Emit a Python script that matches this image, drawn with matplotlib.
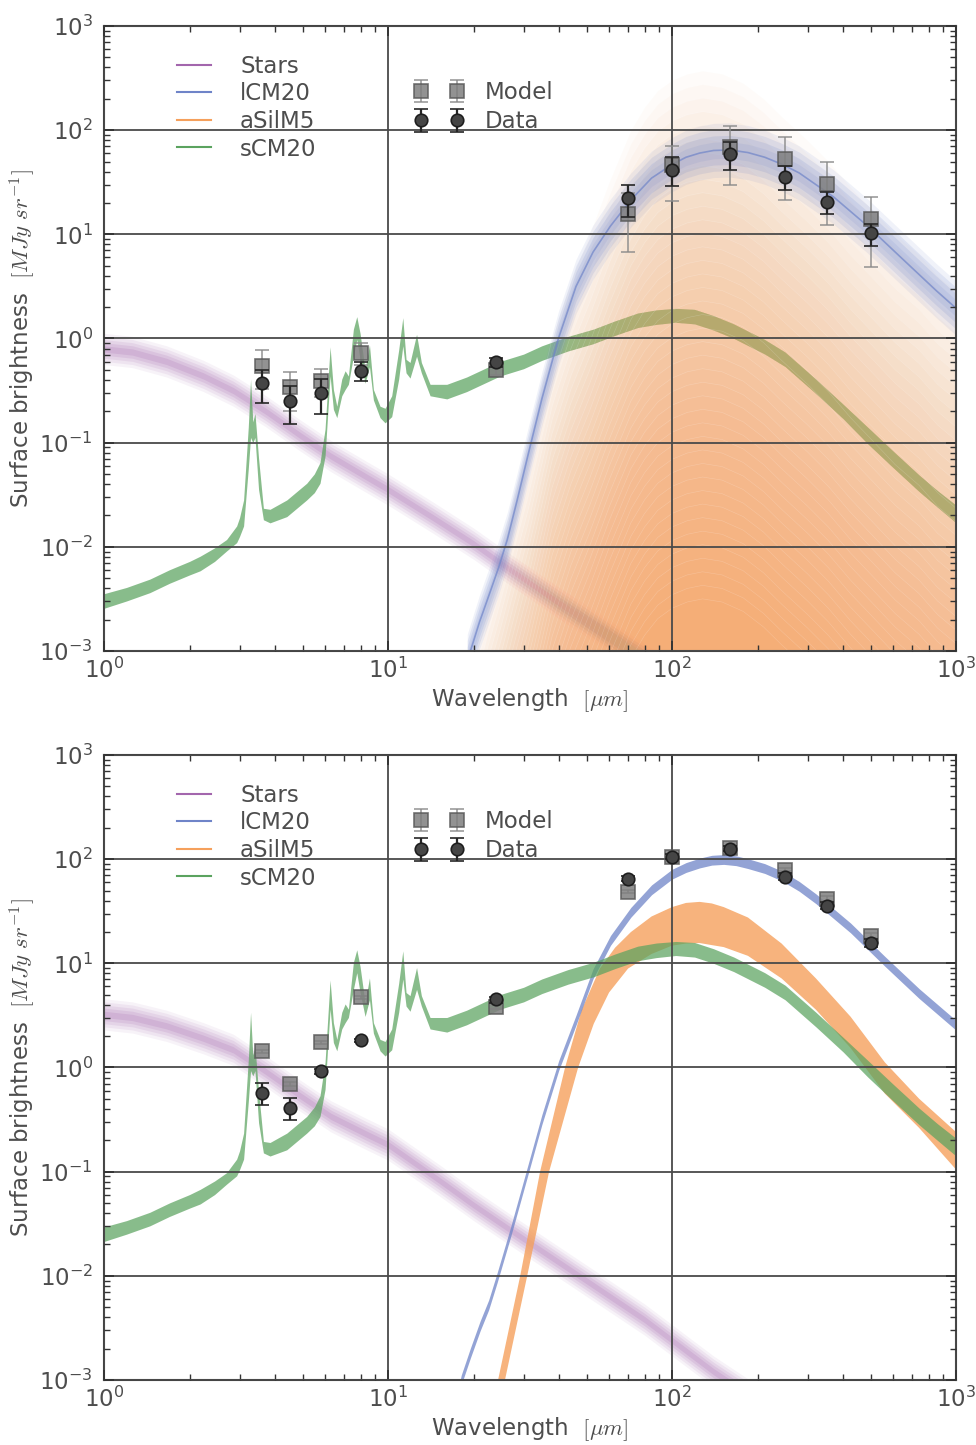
import numpy as np
import matplotlib
matplotlib.use("Agg")
import matplotlib.pyplot as plt
from matplotlib.lines import Line2D
from matplotlib.ticker import LogLocator, NullFormatter

# photometric bands [um]
bands = [3.6, 4.5, 5.8, 8.0, 24, 70, 100, 160, 250, 350, 500]

# top panel, surface brightness [MJy/sr]
top_data = [0.37, 0.25, 0.30, 0.49, 0.59, 22.1, 41.9, 59.6, 35.9, 20.6, 10.2]
top_data_err = [0.13, 0.10, 0.11, 0.10, 0.06, 7.5, 13.0, 18.0, 9.0, 5.0, 2.5]
top_model = [0.55, 0.34, 0.395, 0.73, 0.50, 15.8, 45.8, 69.6, 53.4, 30.7, 13.9]
top_model_err = [0.22, 0.14, 0.12, 0.17, 0.05, 9.0, 25.0, 40.0, 32.0, 18.5, 9.0]

# bottom panel
bot_data = [0.575, 0.41, 0.92, 1.82, 4.5, 65.1, 106, 126, 68, 35.9, 15.8]
bot_data_err = [0.14, 0.10, 0.05, 0.05, 0.3, 3.5, 6.0, 7.0, 5.0, 3.0, 1.5]
bot_model = [1.43, 0.70, 1.74, 4.7, 3.85, 48.9, 105, 128, 79.5, 41.9, 18.5]
bot_model_err = [0.05, 0.03, 0.07, 0.2, 0.2, 2.0, 4.0, 5.0, 3.0, 2.0, 1.0]

# model components, fluxes as log10(MJy/sr)
stars_top_wl = [1.0, 1.26, 1.66, 2.24, 2.85, 3.72, 4.9, 6.3, 8.4, 10, 14.4, 20, 26.3, 40, 56, 72, 100]
stars_top = [-0.10, -0.13, -0.22, -0.36, -0.50, -0.70, -0.93, -1.13, -1.33, -1.45, -1.72,
             -1.97, -2.20, -2.54, -2.80, -3.0, -3.25]
stars_bot_wl = [1.0, 1.26, 1.66, 2.24, 2.85, 3.72, 4.9, 6.3, 8.4, 10, 15.1, 20, 26.3, 45.9, 80, 140, 200]
stars_bot = [0.51, 0.48, 0.40, 0.28, 0.17, -0.04, -0.27, -0.47, -0.64, -0.74, -1.08,
             -1.32, -1.54, -1.98, -2.42, -2.92, -3.2]

green_wl = [1.0, 1.2, 1.45, 1.7, 2.0, 2.18, 2.45, 2.7, 2.93, 3.0, 3.1, 3.22, 3.28, 3.34, 3.40,
            3.50, 3.64, 3.84, 4.4, 5.17, 5.5, 5.76, 6.0, 6.25, 6.42, 6.6, 6.87, 7.06, 7.25,
            7.55, 7.76, 7.97, 8.3, 8.6, 8.88, 9.37, 9.76, 10.3, 10.9, 11.27, 11.57, 11.95,
            12.6, 13.1, 14.06, 16.1, 18.9, 24.8, 30, 34.8, 43, 52.8, 63, 75.7, 88, 103, 120,
            140, 165, 212, 250, 321, 400, 488, 600, 741, 860, 1000]
green_top_hi = [-2.45, -2.39, -2.31, -2.22, -2.14, -2.09, -2.01, -1.93, -1.80, -1.72, -1.55,
                -0.85, -0.39, -0.80, -0.72, -1.15, -1.63, -1.64, -1.55, -1.39, -1.30, -1.19,
                -0.87, -0.08, -0.49, -0.65, -0.39, -0.31, -0.36, 0.09, 0.21, 0.05, -0.30,
                -0.06, -0.49, -0.65, -0.67, -0.55, -0.11, 0.20, -0.20, -0.23, 0.04, -0.23,
                -0.44, -0.44, -0.37, -0.22, -0.15, -0.07, 0.02, 0.09, 0.17, 0.245, 0.275,
                0.29, 0.28, 0.22, 0.14, -0.01, -0.13, -0.39, -0.63, -0.85, -1.08, -1.31,
                -1.46, -1.60]
green_top_lo = [-2.59, -2.52, -2.44, -2.35, -2.27, -2.23, -2.14, -2.04, -1.96, -1.90, -1.80,
                -1.25, -0.95, -1.00, -0.95, -1.45, -1.74, -1.77, -1.71, -1.55, -1.48, -1.39,
                -1.13, -0.36, -0.68, -0.76, -0.55, -0.49, -0.44, -0.17, -0.01, -0.20, -0.43,
                -0.27, -0.59, -0.76, -0.81, -0.75, -0.39, -0.07, -0.33, -0.38, -0.17, -0.33,
                -0.55, -0.58, -0.51, -0.36, -0.29, -0.21, -0.12, -0.05, 0.03, 0.105, 0.135,
                0.155, 0.14, 0.08, 0.00, -0.15, -0.27, -0.53, -0.77, -1.01, -1.24, -1.47,
                -1.62, -1.77]
green_bot_hi = [-1.53, -1.47, -1.39, -1.30, -1.22, -1.17, -1.09, -1.01, -0.88, -0.80, -0.63,
                0.07, 0.53, 0.12, 0.20, -0.23, -0.71, -0.72, -0.63, -0.47, -0.38, -0.27,
                0.05, 0.84, 0.43, 0.27, 0.53, 0.61, 0.56, 1.01, 1.13, 0.97, 0.62,
                0.86, 0.43, 0.27, 0.25, 0.37, 0.81, 1.12, 0.72, 0.69, 0.96, 0.69,
                0.48, 0.48, 0.55, 0.70, 0.77, 0.85, 0.94, 1.01, 1.09, 1.165, 1.195,
                1.21, 1.20, 1.14, 1.06, 0.91, 0.79, 0.53, 0.29, 0.07, -0.16, -0.39,
                -0.54, -0.68]
green_bot_lo = [-1.67, -1.60, -1.52, -1.43, -1.35, -1.31, -1.22, -1.12, -1.04, -0.98, -0.88,
                -0.33, -0.03, -0.08, -0.03, -0.53, -0.82, -0.85, -0.79, -0.63, -0.56, -0.47,
                -0.21, 0.56, 0.24, 0.16, 0.37, 0.43, 0.48, 0.75, 0.91, 0.72, 0.49,
                0.65, 0.33, 0.16, 0.11, 0.17, 0.53, 0.85, 0.59, 0.54, 0.75, 0.59,
                0.37, 0.34, 0.41, 0.56, 0.63, 0.71, 0.80, 0.87, 0.95, 1.025, 1.055,
                1.075, 1.06, 1.00, 0.92, 0.77, 0.65, 0.39, 0.15, -0.09, -0.32, -0.55,
                -0.70, -0.85]

blue_top_wl = [19.0, 19.5, 21, 22.9, 24.5, 26.3, 28.5, 31.1, 34.8, 39.8, 45.9, 52.7, 60.7,
               71.6, 84.7, 100, 112, 125, 140, 160, 185, 212, 245, 280, 370, 488, 644, 851, 1000]
blue_top = [-3.1, -3.0, -2.72, -2.43, -2.2, -1.93, -1.55, -1.12, -0.58, 0.0, 0.5, 0.83, 1.08,
            1.33, 1.54, 1.67, 1.74, 1.78, 1.805, 1.81, 1.785, 1.74, 1.67, 1.59, 1.36, 1.08,
            0.77, 0.46, 0.29]
blue_bot_wl = [16.5, 18.1, 19.5, 21.1, 22.6, 24.2, 27.0, 31.1, 34.8, 39.9, 45.9, 52.7, 60.7,
               71.6, 84.7, 100, 112, 125, 138, 152, 168, 185, 212, 243, 280, 321, 425, 561,
               741, 1000]
blue_bot = [-3.5, -3.0, -2.74, -2.48, -2.28, -2.02, -1.58, -0.98, -0.50, 0.02, 0.455, 0.90,
            1.22, 1.49, 1.706, 1.856, 1.92, 1.963, 1.99, 1.997, 1.985, 1.957, 1.91, 1.84,
            1.74, 1.62, 1.34, 1.02, 0.71, 0.405]

# aSilM5, top: upper envelope of the family of fits and how far each member sits below it
asil_top_wl = [18, 20, 22.4, 24.9, 27.8, 31.1, 34.3, 37.8, 44, 51.3, 60, 71.6, 80, 89, 100,
               113, 128, 150, 178, 210, 243, 300, 355, 425, 520, 610, 741, 860, 1000]
asil_top_env = [-3.6, -3.0, -2.45, -2.0, -1.5, -1.0, -0.5, 0.0, 0.55, 1.0, 1.5, 2.0, 2.22,
                2.38, 2.48, 2.54, 2.57, 2.54, 2.45, 2.3, 2.13, 1.9, 1.7, 1.45, 1.2, 1.0,
                0.8, 0.6, 0.45]
asil_fan_shift = [0.0, -0.13, -0.26, -0.39, -0.52, -0.65, -0.78, -0.91, -1.04, -1.17,
                  -1.30, -1.43, -1.56, -1.69, -1.82, -1.95, -2.08, -2.21, -2.34, -2.47,
                  -2.60, -2.73, -2.86, -2.99, -3.12, -3.25, -3.38, -3.51, -3.64, -3.77,
                  -3.90, -4.03, -4.16, -4.29, -4.42, -4.55, -4.68, -4.81, -4.94, -5.07]

# aSilM5, bottom: upper and lower edges of the band
asil_bot_hi_wl = [23.6, 24.4, 29.2, 34.3, 42, 48, 55.7, 63, 71.6, 84.7, 100, 112, 125,
                  138, 152, 185, 243, 321, 425, 561, 741, 1000]
asil_bot_hi = [-3.3, -3.0, -2.0, -1.0, 0.0, 0.55, 0.95, 1.15, 1.30, 1.45, 1.54, 1.58, 1.59,
               1.575, 1.54, 1.44, 1.19, 0.855, 0.488, 0.05, -0.30, -0.62]
asil_bot_lo_wl = [25.2, 25.8, 30.9, 36.9, 46.7, 53, 60, 70, 84.7, 100, 112, 125,
                  138, 152, 185, 243, 321, 425, 561, 741, 1000]
asil_bot_lo = [-3.3, -3.0, -2.0, -1.0, 0.0, 0.42, 0.72, 0.95, 1.09, 1.17, 1.19,
               1.195, 1.175, 1.156, 1.072, 0.855, 0.555, 0.188, -0.25, -0.58, -0.98]

c_stars = '#a366ad'
c_blue = '#6f84c8'
c_orange = '#f5a05c'
c_green = '#5ba35f'
txt = '#4d4d4d'

plt.rcParams['font.family'] = ['DejaVu Sans']
plt.rcParams['axes.unicode_minus'] = False


def fuzzy_band(ax, wl, logf, color, layers, z):
    logf = np.array(logf)
    for w, a in layers:
        ax.fill_between(wl, 10**(logf - w), 10**(logf + w), color=color, alpha=a, lw=0, zorder=z)


def green_band(ax, hi, lo, z):
    ax.fill_between(green_wl, 10**np.array(lo), 10**np.array(hi), color=c_green, alpha=0.72,
                    lw=0, zorder=z)


def points(ax, data, data_err, model, model_err):
    mod = ax.errorbar(bands, model, yerr=model_err, fmt='s', ms=10, mfc='#7f7f7f', mec='#5a5a5a',
                      mew=1.2, ecolor='#8a8a8a', elinewidth=1.2, capsize=5, capthick=1.2,
                      alpha=0.85, zorder=5)
    dat = ax.errorbar(bands, data, yerr=data_err, fmt='o', ms=9, mfc='#454545', mec='#1e1e1e',
                      mew=1.2, ecolor='#262626', elinewidth=1.6, capsize=5, capthick=1.6, zorder=6)
    return mod, dat


def decorate(ax, mod, dat):
    ax.set_xscale('log')
    ax.set_yscale('log')
    ax.set_xlim(1, 1000)
    ax.set_ylim(1e-3, 1e3)
    ax.set_axisbelow(False)
    ax.grid(True, which='major', color='#4a4a4a', lw=1.3)
    ax.grid(False, which='minor')
    for s in ax.spines.values():
        s.set_color('#444444')
        s.set_linewidth(1.5)
    for a in (ax.xaxis, ax.yaxis):
        a.set_minor_locator(LogLocator(base=10, subs=np.arange(2, 10)))
        a.set_minor_formatter(NullFormatter())
    ax.tick_params(which='both', direction='in', top=True, right=True, color='#333333',
                   labelcolor=txt, labelsize=16.5)
    ax.tick_params(which='major', length=7, width=1.3)
    ax.tick_params(which='minor', length=4, width=1.0)
    ax.tick_params(axis='x', pad=5)
    ax.tick_params(axis='y', pad=8)
    ax.set_xlabel(r'Wavelength  $[\mu m]$', fontsize=16.5, color=txt, math_fontfamily='cm',
                  labelpad=2)
    ax.set_ylabel(r'Surface brightness  $[MJy\ sr^{-1}]$', fontsize=16.5, color=txt,
                  math_fontfamily='cm', labelpad=1)

    comp = [Line2D([], [], color=c, lw=1.5) for c in (c_stars, c_blue, c_orange, c_green)]
    leg1 = ax.legend(comp, ['Stars', 'lCM20', 'aSilM5', 'sCM20'], loc='upper left',
                     bbox_to_anchor=(0.0857, 0.954), frameon=False, fontsize=16.5,
                     labelspacing=0.2, handlelength=1.5, handletextpad=1.25, borderpad=0,
                     borderaxespad=0, labelcolor=txt)
    ax.add_artist(leg1)
    ax.legend([mod, dat], ['Model', 'Data'], loc='upper left', bbox_to_anchor=(0.364, 0.912),
              frameon=False, fontsize=16.5, numpoints=2, labelspacing=0.27, handlelength=2.17,
              handletextpad=0.9, borderpad=0, borderaxespad=0, labelcolor=txt)


fig = plt.figure(figsize=(9.76, 14.45), dpi=100)
ax_top = fig.add_axes([0.1066, 0.5495, 0.8730, 0.4325])
ax_bot = fig.add_axes([0.1066, 0.0450, 0.8730, 0.4325])

star_layers = [(0.15, 0.08), (0.12, 0.10), (0.09, 0.12), (0.06, 0.15), (0.03, 0.18)]

# top panel
fuzzy_band(ax_top, stars_top_wl, stars_top, c_stars, star_layers, 1.0)
green_band(ax_top, green_top_hi, green_top_lo, 1.05)
env = np.array(asil_top_env)
for s in asil_fan_shift:
    ax_top.fill_between(asil_top_wl, 1e-8, 10**(env + s), color=c_orange, alpha=0.034, lw=0,
                        zorder=1.1)
    ax_top.plot(asil_top_wl, 10**(env + s), color='white', lw=0.4, alpha=0.2, zorder=1.1)
fuzzy_band(ax_top, blue_top_wl, blue_top, c_blue,
           [(0.26, 0.10), (0.20, 0.14), (0.14, 0.16), (0.08, 0.12)], 1.3)
ax_top.plot(blue_top_wl, 10**np.array(blue_top), color=c_blue, lw=1.2, alpha=0.7, zorder=1.4)
m, d = points(ax_top, top_data, top_data_err, top_model, top_model_err)
decorate(ax_top, m, d)

# bottom panel
fuzzy_band(ax_bot, stars_bot_wl, stars_bot, c_stars, star_layers, 1.0)
ax_bot.fill(np.concatenate([asil_bot_hi_wl, asil_bot_lo_wl[::-1]]),
            10**np.concatenate([asil_bot_hi, asil_bot_lo[::-1]]),
            color=c_orange, alpha=0.8, lw=0, zorder=1.1)
fuzzy_band(ax_bot, blue_bot_wl, blue_bot, c_blue, [(0.047, 0.75)], 1.3)
green_band(ax_bot, green_bot_hi, green_bot_lo, 1.6)
m, d = points(ax_bot, bot_data, bot_data_err, bot_model, bot_model_err)
decorate(ax_bot, m, d)

fig.savefig('out.png', dpi=100)
